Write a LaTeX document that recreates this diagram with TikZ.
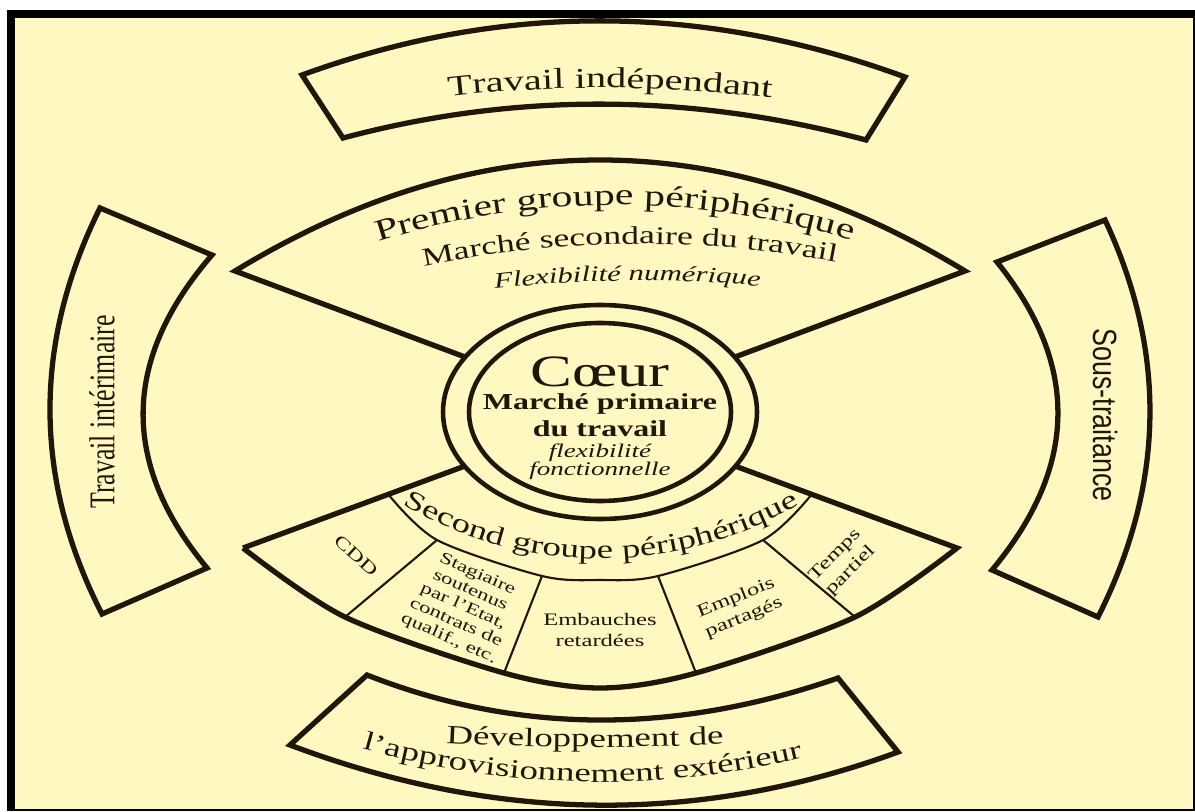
\documentclass[tikz,border=0pt]{standalone}
\usepackage{fontspec}
\setmainfont{Liberation Serif}[FakeStretch=1.4]
\newfontfamily\uprightserif{Liberation Serif}
\newfontfamily\narrowsans{Liberation Sans}
\usetikzlibrary{decorations.text}

\definecolor{paper}{RGB}{255,248,192}
\definecolor{ink}{RGB}{32,22,10}

\newcommand\fsz[2]{\fontsize{#1}{#2}\selectfont}
\newcommand\fTop{\fsz{16.4}{18}}
\newcommand\fPremier{\fsz{17}{19}}
\newcommand\fMarche{\fsz{14.5}{17}}
\newcommand\fFlex{\itshape\fsz{12.5}{14}}
\newcommand\fSecond{\fsz{15}{17}}
\newcommand\fDev{\fsz{15}{17}}

\tikzset{
  zone/.style={
    % The border:
    draw=ink, line width=3pt,
    % The corners:
    line join=miter
  },
  divider/.style={draw=ink, line width=1.2pt},
  corering/.style={draw=ink, line width=2.6pt},
  caption/.style={text=ink, inner sep=0pt, align=center},
  arctext/.style={decorate,
    decoration={text along path, text align=center, text color=ink, text={#1}}}
}

\begin{document}
\begin{tikzpicture}[x=0.02cm,y=-0.02cm]
  \useasboundingbox (0,0) rectangle (1195,811);
  % frame
  \fill[black] (7,10) rectangle (1195,811);
  \fill[paper] (15,18) rectangle (1193,809);

  % Travail independant
  \coordinate (ti-tl) at (302,75);
  \coordinate (ti-tr) at (905,77);
  \coordinate (ti-br) at (866,140);
  \coordinate (ti-bl) at (343,138);
  \draw[zone] (ti-tl) .. controls (502,2) and (703,3) .. (ti-tr) -- (ti-br)
    .. controls (690,93) and (515,92) .. (ti-bl) -- cycle;
  \path[arctext={|\fTop|Travail indépendant}] (420,100) .. controls (547,83) and (673,84) .. (800,102);

  % core
  \coordinate (core) at (600,412);
  \draw[corering] (core) ellipse[x radius=157, y radius=107];
  \draw[corering] (core) ellipse[x radius=131, y radius=89];
  \node[caption, font=\fsz{25.5}{28}] (coeur) at (600,372) {Cœur};
  \node[caption, font=\bfseries\fsz{13}{15}] (primaire) at (600,404) {Marché primaire};
  \node[caption, font=\bfseries\fsz{13}{15}] (dutravail) at (600,429) {du travail};
  \node[caption, font=\itshape\fsz{11}{13}] (flexi) at (600,453) {flexibilité};
  \node[caption, font=\itshape\fsz{11}{13}] (fonct) at (600,471) {fonctionnelle};

  % premier groupe
  \coordinate (p1-ol) at (235,271);
  \coordinate (p1-or) at (965,271);
  \coordinate (p1-il) at (465,357);
  \coordinate (p1-ir) at (735,357);
  \draw[zone] (p1-il) -- (p1-ol) .. controls (478,123) and (722,123) .. (p1-or) -- (p1-ir);
  \path[arctext={|\fPremier|Premier groupe périphérique}] (360,248) .. controls (528,191) and (698,191) .. (870,246);
  \path[arctext={|\fMarche|Marché secondaire du travail}] (400,272) .. controls (553,236) and (707,235) .. (860,267);
  \path[arctext={|\fFlex|Flexibilité numérique}] (470,292) .. controls (574,278) and (679,277) .. (785,289);

  % second groupe
  \coordinate (p2-ol) at (243,548);
  \coordinate (p2-or) at (957,548);
  \coordinate (p2-il) at (465,466);
  \coordinate (p2-ir) at (735,466);
  \coordinate (b0) at (388,494);
  \coordinate (b1) at (437,540);
  \coordinate (b2) at (542,576);
  \coordinate (bm) at (600,580);
  \coordinate (b3) at (658,576);
  \coordinate (b4) at (763,540);
  \coordinate (b5) at (812,494);
  \coordinate (o1) at (345,617);
  \coordinate (o2) at (504,673);
  \coordinate (om) at (600,688);
  \coordinate (o3) at (696,673);
  \coordinate (o4) at (855,617);
  \draw[zone] (p2-il) -- (p2-ol) plot[smooth] coordinates {(p2-ol) (o1) (o2) (om) (o3) (o4) (p2-or)} -- (p2-ir);
  \draw[divider] plot[smooth] coordinates {(b0) (b1) (b2) (bm) (b3) (b4) (b5)};
  \draw[divider] (b1) -- (o1);
  \draw[divider] (b2) -- (o2);
  \draw[divider] (b3) -- (o3);
  \draw[divider] (b4) -- (o4);
  \path[arctext={|\fSecond|Second groupe périphérique}] (400,503) arc[start angle=121, end angle=59, radius=390];
  \node[caption, rotate=-42, font=\fsz{10}{11}] (cdd) at (356,556) {CDD};
  \node[caption, rotate=-24, font=\fsz{9.3}{10}] (stag) at (463,607) {Stagiaire\\soutenus\\par l'Etat,\\contrats de\\qualif., etc.};
  \node[caption, font=\fsz{10}{12}] (embau) at (600,630) {Embauches\\retardées};
  \node[caption, rotate=22, font=\fsz{10}{12}] (emplo) at (740,608) {Emplois\\partagés};
  \node[caption, rotate=45, font=\fsz{10}{12.5}] (temps) at (843,563) {Temps\\partiel};

  % Travail interimaire
  \coordinate (lb-tl) at (100,208);
  \coordinate (lb-tr) at (212,255);
  \coordinate (lb-br) at (207,568);
  \coordinate (lb-bl) at (102,614);
  \draw[zone] (lb-tl) -- (lb-tr) .. controls (122,359) and (120,463) .. (lb-br) -- (lb-bl)
    .. controls (33,479) and (33,343) .. cycle;
  \node[caption, rotate=90] (interim) at (102,412) {\scalebox{1}[1.4]{\uprightserif\fsz{14.7}{16}Travail intérimaire}};

  % Sous-traitance
  \coordinate (rb-tl) at (997,262);
  \coordinate (rb-tr) at (1105,220);
  \coordinate (rb-br) at (1098,617);
  \coordinate (rb-bl) at (992,570);
  \draw[zone] (rb-tl) -- (rb-tr) .. controls (1167,352) and (1165,484) .. (rb-br) -- (rb-bl)
    .. controls (1078,467) and (1080,365) .. cycle;
  \node[caption, rotate=-90] (soustr) at (1105,415) {\scalebox{1}[1.25]{\narrowsans\fsz{15.3}{17}Sous-traitance}};

  % approvisionnement exterieur
  \coordinate (ae-tl) at (367,675);
  \coordinate (ae-tr) at (838,678);
  \coordinate (ae-br) at (898,752);
  \coordinate (ae-bl) at (290,745);
  \draw[zone] (ae-tl) .. controls (517,734) and (674,735) .. (ae-tr) -- (ae-br)
    .. controls (699,825) and (497,823) .. (ae-bl) -- cycle;
  \path[arctext={|\fDev|Développement de}] (400,740) .. controls (523,749) and (647,749) .. (770,742);
  \path[arctext={|\fDev|l'approvisionnement extérieur}] (340,742) .. controls (501,792) and (663,795) .. (825,752);
\end{tikzpicture}
\end{document}
